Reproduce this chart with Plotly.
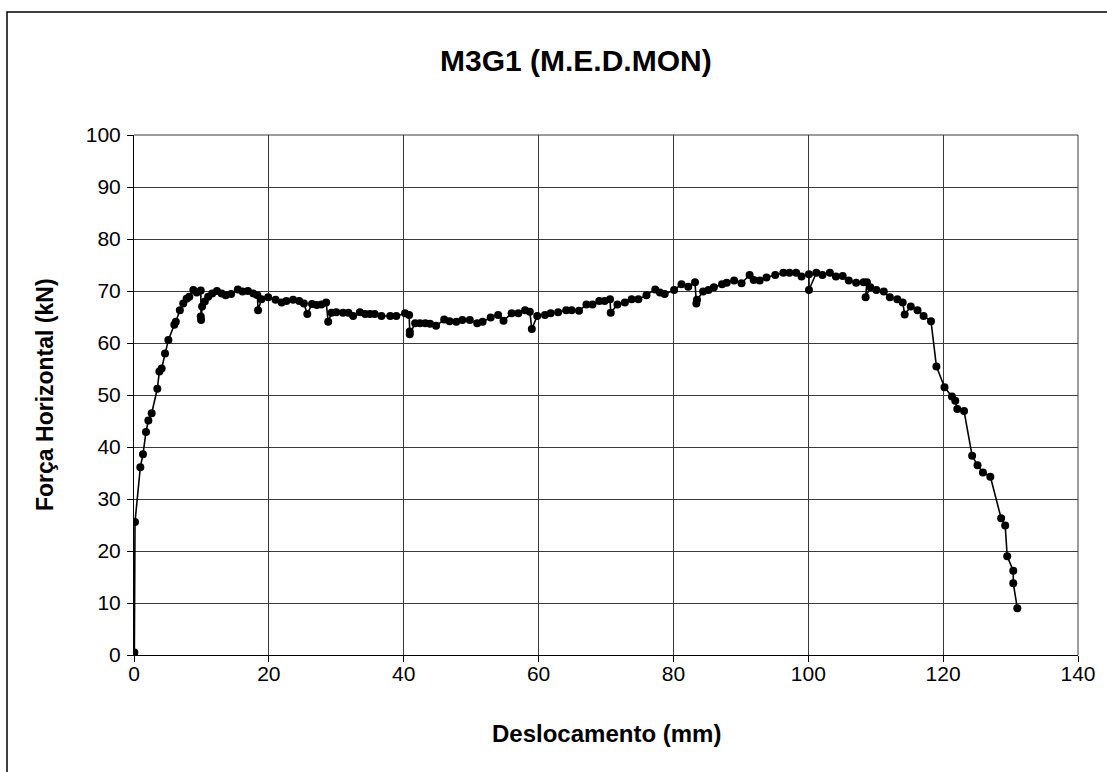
import plotly.graph_objects as go

deslocamento = [0.0, 0.05, 0.15, 0.94, 1.33, 1.78, 2.13, 2.62, 3.46, 3.76, 4.1, 4.6, 5.1, 5.98, 6.2, 6.8, 7.3, 7.8,
                8.2, 8.8, 9.3, 9.9, 9.9, 9.95, 10.1, 10.5, 11.0, 11.6, 12.3, 13.0, 13.6, 14.4, 15.4, 16.1, 16.9,
                17.7, 18.3, 18.4, 18.9, 19.9, 21.0, 21.9, 22.6, 23.6, 24.5, 25.2, 25.7, 26.4, 27.1, 27.8, 28.5,
                28.8, 29.3, 30.0, 31.0, 31.8, 32.5, 33.5, 34.3, 35.0, 35.7, 36.7, 38.0, 38.9, 40.2, 40.8, 40.9,
                40.9, 41.7, 42.4, 43.2, 43.9, 44.8, 46.0, 46.8, 47.8, 48.7, 49.8, 50.9, 51.7, 52.9, 54.0, 54.8,
                56.0, 57.0, 58.0, 58.7, 59.0, 59.8, 60.95, 61.8, 62.9, 64.1, 64.9, 66.0, 67.1, 68.0, 69.0, 69.8,
                70.6, 70.7, 71.7, 72.8, 73.8, 74.8, 76.0, 77.3, 78.0, 78.7, 80.1, 81.2, 82.2, 83.2, 83.4, 83.5,
                84.4, 85.2, 86.0, 87.2, 87.9, 89.0, 90.1, 91.3, 91.9, 92.8, 93.8, 95.1, 96.3, 97.2, 98.2, 99.0,
                100.1, 100.1, 101.2, 102.1, 103.2, 104.1, 105.1, 106.0, 107.1, 108.2, 108.7, 108.5, 109.2, 110.1,
                111.2, 112.1, 113.2, 114.0, 114.3, 115.2, 116.2, 117.1, 118.2, 119.0, 120.2, 121.3, 121.8, 122.1,
                123.1, 124.3, 125.1, 125.9, 127.0, 128.6, 129.2, 129.5, 130.4, 130.4, 131.0]

forca = [0.0, 0.5, 25.6, 36.1, 38.6, 42.9, 45.1, 46.5, 51.2, 54.5, 55.1, 58.0, 60.6, 63.5, 64.1, 66.3, 67.6, 68.5,
         68.9, 70.2, 69.7, 70.1, 65.1, 64.4, 67.0, 68.0, 68.9, 69.5, 70.0, 69.5, 69.2, 69.4, 70.3, 69.9, 70.0,
         69.5, 69.2, 66.3, 68.4, 68.8, 68.3, 67.8, 68.1, 68.3, 68.1, 67.6, 65.6, 67.5, 67.3, 67.4, 67.8,
         64.1, 65.8, 65.9, 65.8, 65.8, 65.2, 65.9, 65.6, 65.6, 65.6, 65.2, 65.2, 65.2, 65.7, 65.4, 62.2,
         61.7, 63.8, 63.8, 63.8, 63.7, 63.3, 64.5, 64.2, 64.1, 64.4, 64.4, 63.8, 64.1, 64.9, 65.4, 64.3,
         65.7, 65.7, 66.3, 66.0, 62.7, 65.2, 65.4, 65.7, 65.9, 66.3, 66.3, 66.2, 67.4, 67.4, 68.1, 68.1,
         68.4, 65.8, 67.4, 67.8, 68.4, 68.4, 69.2, 70.3, 69.7, 69.4, 70.2, 71.3, 70.8, 71.7, 67.6, 68.3,
         69.9, 70.2, 70.7, 71.3, 71.6, 72.0, 71.5, 73.1, 72.1, 72.0, 72.6, 73.1, 73.5, 73.5, 73.5, 72.8,
         73.2, 70.2, 73.5, 73.1, 73.5, 72.8, 72.9, 72.0, 71.6, 71.7, 71.7, 68.8, 70.7, 70.2,
         69.9, 68.8, 68.4, 67.8, 65.5, 67.0, 66.3, 65.2, 64.2, 55.5, 51.5, 49.7, 48.9, 47.3,
         46.9, 38.3, 36.5, 35.1, 34.3, 26.3, 24.9, 19.0, 16.2, 13.8, 9.0]

x_ticks = [0, 20, 40, 60, 80, 100, 120, 140]
y_ticks = [0, 10, 20, 30, 40, 50, 60, 70, 80, 90, 100]

title_text = "M3G1 (M.E.D.MON)"
x_title = "Deslocamento (mm)"
y_title = "Força Horizontal (kN)"

FONT = "Arial, 'Liberation Sans', sans-serif"

fig = go.Figure()
fig.add_trace(go.Scatter(
    x=deslocamento, y=forca, mode="lines+markers",
    line=dict(color="black", width=1.6),
    marker=dict(color="black", size=8),
    showlegend=False,
))

L, R, T, B = 134, 29, 135, 117
W, H = 1107, 772
pw, ph = W - L - R, H - T - B

axis_common = dict(
    showgrid=True, gridcolor="#3a3a3a", gridwidth=1,
    showline=True, linecolor="black", linewidth=1, mirror=False,
    ticks="outside", ticklen=6, tickcolor="black", tickwidth=1,
    tickfont=dict(family=FONT, size=21, color="black"),
    zeroline=False,
)

fig.update_layout(
    width=W, height=H,
    margin=dict(l=L, r=R, t=T, b=B),
    paper_bgcolor="white", plot_bgcolor="white",
    xaxis=dict(range=[0, 140], tickvals=x_ticks, ticktext=[str(v) for v in x_ticks],
               ticklabelstandoff=-6, **axis_common),
    yaxis=dict(range=[0, 100], tickvals=y_ticks, ticktext=[str(v) for v in y_ticks],
               ticklabelstandoff=2, **axis_common),
    annotations=[
        dict(text="<b>%s</b>" % title_text, xref="paper", yref="paper",
             x=(576 - L) / pw, y=(H - B - 60) / ph, showarrow=False,
             xanchor="center", yanchor="middle", font=dict(family=FONT, size=30, color="black")),
        dict(text="<b>%s</b>" % x_title, xref="paper", yref="paper",
             x=0.5, y=(H - B - 733) / ph, showarrow=False,
             xanchor="center", yanchor="middle", font=dict(family=FONT, size=24, color="black")),
        dict(text="<b>%s</b>" % y_title, xref="paper", yref="paper",
             x=(45 - L) / pw, y=0.5, showarrow=False, textangle=-90,
             xanchor="center", yanchor="middle", font=dict(family=FONT, size=23, color="black")),
    ],
    shapes=[
        dict(type="rect", xref="paper", yref="paper",
             x0=(7 - L) / pw, x1=(W + 20 - L) / pw,
             y0=(H - B - (H + 20)) / ph, y1=(H - B - 12) / ph,
             line=dict(color="black", width=1.5), fillcolor="rgba(0,0,0,0)", layer="below"),
        dict(type="line", xref="paper", yref="paper", x0=1, x1=1, y0=0, y1=1,
             line=dict(color="#3a3a3a", width=1)),
        dict(type="line", xref="paper", yref="paper", x0=0, x1=1, y0=1, y1=1,
             line=dict(color="#3a3a3a", width=1)),
    ],
)

fig.write_html("out.html", config={"displayModeBar": False},
               post_script="document.body.style.margin='0';document.body.style.overflow='hidden';")
